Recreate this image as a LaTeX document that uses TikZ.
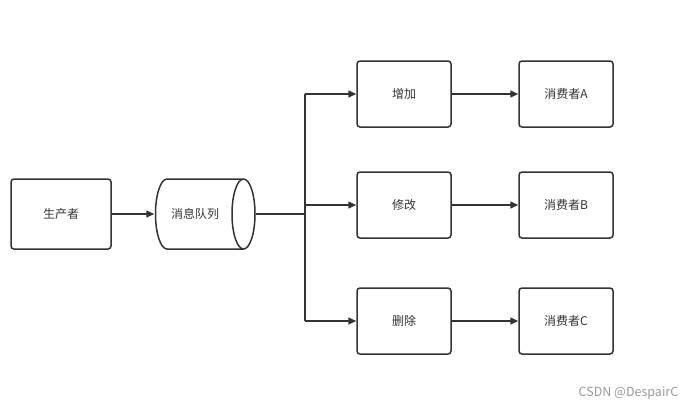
\documentclass[tikz,border=0pt]{standalone}
\usepackage{fontspec}
\setmainfont{Noto Sans CJK SC}
\usepackage{xcolor}
\usetikzlibrary{arrows.meta}
\definecolor{linegray}{HTML}{333333}
\definecolor{markgray}{HTML}{999999}

\begin{document}
\begin{tikzpicture}[x=1pt, y=-1pt, font=\fontsize{12}{14}\selectfont, line width=1.5pt,
  box node/.style={rectangle, rounded corners=3pt, draw=linegray, text=linegray, minimum width=94pt, minimum height=66pt, inner sep=0pt},
  queue node/.style={rectangle, minimum width=100pt, minimum height=70pt, inner sep=0pt},
  arr/.style={-{Triangle[length=8pt,width=7pt]}, linegray}]
\useasboundingbox (0,0) rectangle (693,410);
\node[box node, minimum width=100pt, minimum height=70pt] (p) at (61,214) {生产者};
\node[queue node] (q) at (205,214) {};
\draw[linegray] (167,179) arc[start angle=90, end angle=270, x radius=11.5pt, y radius=35pt] -- (243.5,249)
  (167,179) -- (243.5,179)
  (243.5,214) ellipse [x radius=11.5pt, y radius=35pt];
\node[text=linegray] (qtext) at (195,214) {消息队列};
\node[box node] (add) at (404,94) {增加};
\node[box node] (mod) at (404,205) {修改};
\node[box node] (del) at (404,321) {删除};
\node[box node] (ca) at (566,94) {消费者A};
\node[box node] (cb) at (566,205) {消费者B};
\node[box node] (cc) at (566,321) {消费者C};
\coordinate (j) at (305,214);
\coordinate (jt) at (305,94);
\coordinate (jm) at (305,205);
\coordinate (jb) at (305,321);
\draw[linegray] (q.east) -- (j);
\draw[linegray] (jt) -- (jb);
\path[arr]
(p) edge (q)
(jt) edge (add)
(jm) edge (mod)
(jb) edge (del)
(add) edge (ca)
(mod) edge (cb)
(del) edge (cc);
\node[anchor=east, inner sep=0pt, text=markgray, font=\fontsize{12.5}{14}\selectfont] (mark) at (679,393) {CSDN @DespairC};
\end{tikzpicture}
\end{document}
